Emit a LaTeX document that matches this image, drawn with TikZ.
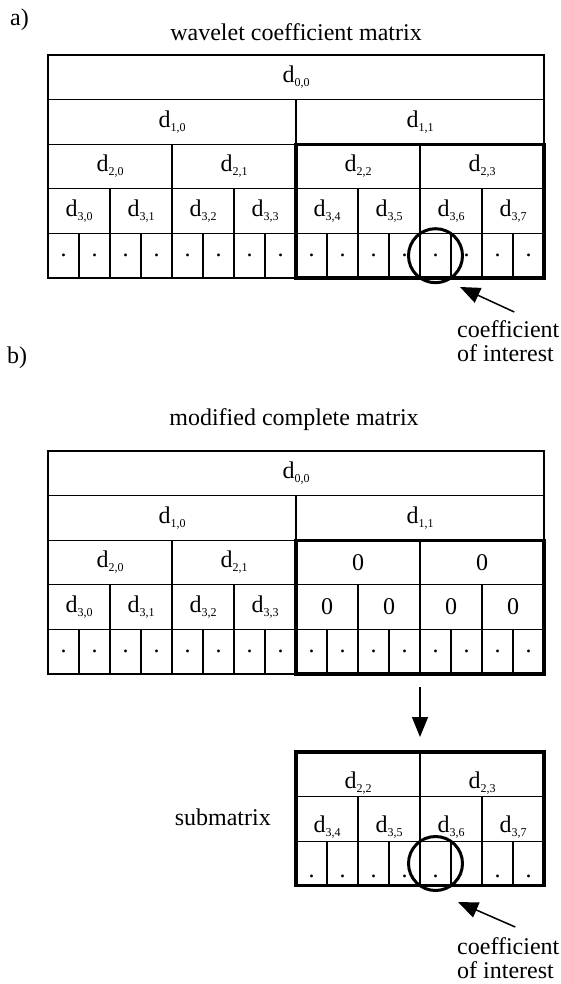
\documentclass[tikz,border=0pt]{standalone}
\usepackage{fontspec}
\setmainfont{Liberation Serif}
\usepackage{tikz}
\usetikzlibrary{arrows.meta, positioning, calc}

% label d_{i,j} with a small, lowered index
\newcommand{\dlab}[2]{d\raisebox{-4pt}{\fontsize{12}{12}\selectfont #1,#2}}

\begin{document}
\begin{tikzpicture}[x=1pt, y=-1pt, font=\fontsize{24}{24}\selectfont,
    cell/.style={draw, line width=1.3pt, inner sep=0pt, outer sep=0pt, minimum height=\h},
    heavy/.style={line width=3.2pt},
    ring/.style={draw, circle, line width=3pt, minimum size=54, inner sep=0pt},
    txt/.style={inner sep=0pt},
    pointer/.style={line width=1.5pt, -{Triangle[length=20pt, width=16pt]}}]
        \useasboundingbox (0,0) rectangle (561,984);

        % Define dimensions
        \def\w{31}   % width of a finest cell
        \def\h{44.6} % height of a row
        \def\xa{48}  % left edge of both matrices
        \def\ya{55}  % top of matrix a
        \def\yb{451} % top of matrix b

        % a) wavelet coefficient matrix
        \node[txt, anchor=base west] (tagA) at (10, 26) {a)};
        \node[txt, anchor=base] (titleA) at (296, 41) {wavelet coefficient matrix};

        \foreach \l in {0,...,4} {
            \pgfmathtruncatemacro{\n}{2^\l}
            \pgfmathtruncatemacro{\last}{\n-1}
            \pgfmathsetmacro{\cw}{16/\n*\w}
            \foreach \k in {0,...,\last} {
                \ifnum\l=4
                    \def\currtext{.}
                \else
                    \def\currtext{\dlab{\l}{\k}}
                \fi
                \node[cell, minimum width=\cw] (a-\l-\k) at (\xa+\k*\cw+\cw/2, \ya+\l*\h+\h/2) {\currtext};
            }
        }
        \draw[heavy] (a-2-2.north west) rectangle (a-4-15.south east);

        \node[ring] (ringA) at (a-4-12) {};
        \node[txt, anchor=north west, align=left] (noteA) at (457, 320) {coefficient\\of interest};
        \coordinate (pickA) at (460, 287);
        \draw[pointer] ([xshift=6pt, yshift=8pt]noteA.north) -- (pickA);

        % b) same matrix, right half of the lower levels set to zero
        \node[txt, anchor=base west] (tagB) at (7, 363) {b)};
        \node[txt, anchor=base] (titleB) at (294, 425) {modified complete matrix};

        \foreach \l in {0,...,4} {
            \pgfmathtruncatemacro{\n}{2^\l}
            \pgfmathtruncatemacro{\last}{\n-1}
            \pgfmathtruncatemacro{\half}{\n/2}
            \pgfmathsetmacro{\cw}{16/\n*\w}
            \foreach \k in {0,...,\last} {
                % Set text based on level and side
                \ifnum\l=4
                    \def\currtext{.}
                \else
                    \def\currtext{\dlab{\l}{\k}}
                    \ifnum\l>1
                        \ifnum\k<\half\else
                            \def\currtext{0}
                        \fi
                    \fi
                \fi
                \node[cell, minimum width=\cw] (b-\l-\k) at (\xa+\k*\cw+\cw/2, \yb+\l*\h+\h/2) {\currtext};
            }
        }
        \draw[heavy] (b-2-2.north west) rectangle (b-4-15.south east);

        % submatrix cut out of the right half
        \def\xs{296}
        \def\ys{752}
        \node[txt, anchor=base east] (titleS) at (271, 825) {submatrix};

        \foreach \l in {2,3,4} {
            \pgfmathtruncatemacro{\n}{2^(\l-1)}
            \pgfmathtruncatemacro{\last}{2*\n-1}
            \pgfmathsetmacro{\cw}{8/\n*\w}
            \foreach \k in {\n,...,\last} {
                \ifnum\l=4
                    \def\currtext{.}
                    \ifnum\k=13 \def\currtext{}\fi
                \else
                    \def\currtext{\dlab{\l}{\k}}
                \fi
                \node[cell, minimum width=\cw, text height=32pt, text depth=4pt]
                    (s-\l-\k) at (\xs+\k*\cw-\n*\cw+\cw/2, \ys+\l*\h-2*\h+\h/2) {\currtext};
            }
        }
        \draw[heavy] (s-2-2.north west) rectangle (s-4-15.south east);

        \draw[pointer, shorten <=13pt, shorten >=15pt] (b-4-12.south west) -- (s-2-3.north west);

        \node[ring] (ringS) at (s-4-12) {};
        \node[txt, anchor=north west, align=left] (noteS) at (457, 937) {coefficient\\of interest};
        \coordinate (pickS) at (458, 902);
        \draw[pointer] ([xshift=7pt, yshift=10pt]noteS.north) -- (pickS);
    \end{tikzpicture}
\end{document}
